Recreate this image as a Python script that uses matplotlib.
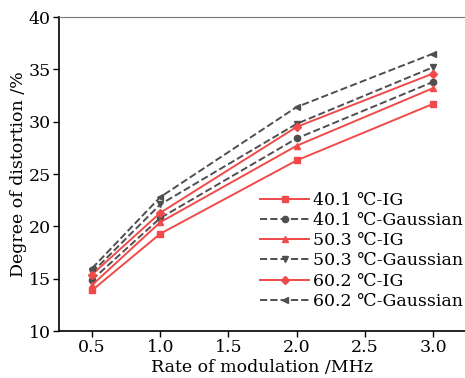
import matplotlib.pyplot as plt
import numpy as np

plt.rcParams['font.family'] = ['DejaVu Serif', 'Noto Sans CJK SC']

# 调制速率 (MHz)
rate = [0.5, 1.0, 2.0, 3.0]

# 失真度 (%)
ig_401 = [13.9, 19.3, 26.3, 31.7]
gs_401 = [14.9, 20.8, 28.4, 33.8]
ig_503 = [14.4, 20.4, 27.7, 33.2]
gs_503 = [15.6, 22.1, 29.8, 35.2]
ig_602 = [15.4, 21.3, 29.5, 34.6]
gs_602 = [16.0, 22.8, 31.4, 36.5]

labels = ['40.1 ℃-IG', '40.1 ℃-Gaussian', '50.3 ℃-IG',
          '50.3 ℃-Gaussian', '60.2 ℃-IG', '60.2 ℃-Gaussian']

red = '#f04a4a'
grey = '#4f4f4f'

fig = plt.figure(figsize=(4.65, 3.78), dpi=100)
ax = fig.add_axes([0.127, 0.124, 0.873, 0.831])

ax.plot(rate, ig_401, color=red, ls='-', lw=1.4, marker='s', ms=4.5, label=labels[0])
ax.plot(rate, gs_401, color=grey, ls='--', lw=1.4, marker='o', ms=4.5, label=labels[1])
ax.plot(rate, ig_503, color=red, ls='-', lw=1.4, marker='^', ms=5, label=labels[2])
ax.plot(rate, gs_503, color=grey, ls='--', lw=1.4, marker='v', ms=5, label=labels[3])
ax.plot(rate, ig_602, color=red, ls='-', lw=1.4, marker='D', ms=4, label=labels[4])
ax.plot(rate, gs_602, color=grey, ls='--', lw=1.4, marker='<', ms=5, label=labels[5])

ax.set_xlim(0.258, 3.235)
ax.set_ylim(10, 40)
ax.set_xticks([0.5, 1.0, 1.5, 2.0, 2.5, 3.0])
ax.set_yticks([10, 15, 20, 25, 30, 35, 40])
ax.tick_params(direction='out', length=4, width=1, labelsize=12.5, pad=2)
ax.spines['right'].set_visible(False)
ax.spines['top'].set_color('#777777')
for s in ['left', 'bottom']:
    ax.spines[s].set_linewidth(1.2)

ax.set_xlabel('Rate of modulation /MHz', fontsize=12.5, labelpad=1.5)
ax.set_ylabel('Degree of distortion /%', fontsize=12.5, labelpad=1)

ax.legend(loc='lower right', bbox_to_anchor=(1.02, 0.035), frameon=False,
          fontsize=12.5, handlelength=2.8, handletextpad=0.2, labelspacing=0.18,
          borderaxespad=0.2)

plt.savefig('out.png', dpi=100)
